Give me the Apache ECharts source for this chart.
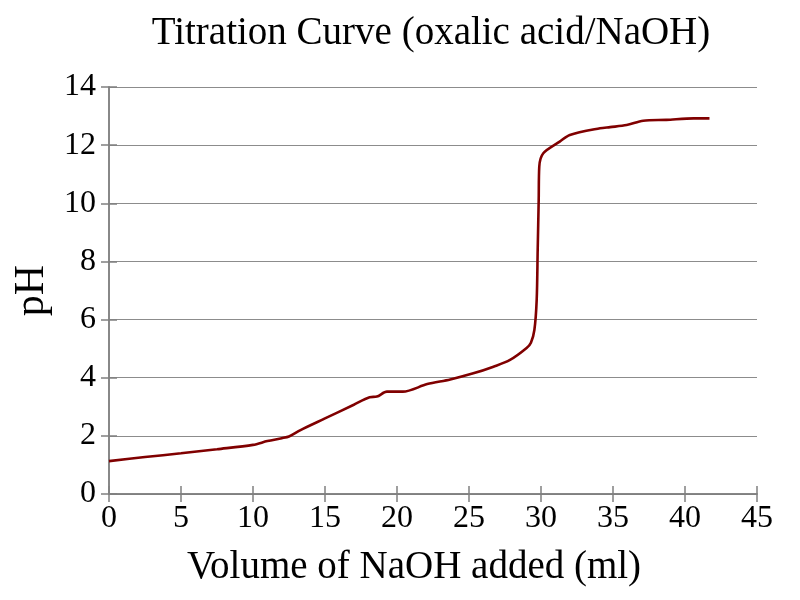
<!DOCTYPE html>
<html><head><meta charset="utf-8">
<script src="https://cdn.jsdelivr.net/npm/echarts@6/dist/echarts.min.js"></script>
<style>html,body{margin:0;padding:0;background:#fff}#c{width:800px;height:600px}</style>
</head><body><div id="c"></div>
<script>
const volume = [0, 2.5, 5, 7.5, 10, 11, 12, 12.5, 13.3, 15, 17, 18.1, 18.6, 19.3, 20.4, 22.1, 23.7, 25.3, 26.7, 27.85, 29.0, 29.3, 29.54, 29.7, 29.77, 29.84, 29.88, 30.16, 31.3, 32.0, 34.1, 34.8, 35.95, 37.1, 38.7, 40.6, 41.7];
const pH =     [1.13, 1.27, 1.40, 1.54, 1.69, 1.82, 1.92, 1.98, 2.2, 2.6, 3.07, 3.33, 3.35, 3.52, 3.52, 3.78, 3.94, 4.15, 4.38, 4.61, 5.02, 5.2, 5.64, 6.67, 8.39, 10.11, 11.26, 11.72, 12.12, 12.35, 12.58, 12.62, 12.69, 12.84, 12.87, 12.92, 12.92];
const xTicks = [0, 5, 10, 15, 20, 25, 30, 35, 40, 45];
const yTicks = [0, 2, 4, 6, 8, 10, 12, 14];
const title = 'Titration Curve (oxalic acid/NaOH)';
const xName = 'Volume of NaOH added (ml)';
const yName = 'pH';

const font = '"Liberation Serif", "DejaVu Serif", serif';
const axisLine = {show: true, lineStyle: {color: '#808080', width: 1.5}};
const tick = {show: true, inside: false, length: 8, lineStyle: {color: '#808080', width: 1.5}};
const chart = echarts.init(document.getElementById('c'), null, {renderer: 'canvas'});
chart.setOption({
  animation: false,
  backgroundColor: '#fff',
  title: {text: title, left: 426, top: 9, textAlign: 'center',
    textStyle: {fontFamily: font, fontSize: 39, fontWeight: 'normal', color: '#000'}},
  grid: {left: 109, right: 43, top: 87, bottom: 106},
  xAxis: [
    {type: 'value', min: xTicks[0], max: xTicks[xTicks.length-1], interval: 5, position: 'bottom',
     name: xName, nameLocation: 'middle', nameGap: 54,
     nameTextStyle: {fontFamily: font, fontSize: 39, color: '#000', padding: [0, 38, 0, 0]},
     axisLine: axisLine, axisTick: tick, splitLine: {show: false},
     axisLabel: {fontFamily: font, fontSize: 32, color: '#000', margin: 9}},
    {type: 'value', min: xTicks[0], max: xTicks[xTicks.length-1], interval: 5, position: 'top',
     axisLine: axisLine, axisTick: tick, splitLine: {show: false}, axisLabel: {show: false}}
  ],
  yAxis: [
    {type: 'value', min: yTicks[0], max: yTicks[yTicks.length-1], interval: 2, position: 'left',
     name: yName, nameLocation: 'middle', nameGap: 40, nameRotate: 90,
     nameTextStyle: {fontFamily: font, fontSize: 42, color: '#000'},
     axisLine: axisLine, axisTick: tick,
     splitLine: {show: true, lineStyle: {color: '#8c8c8c', width: 1.2}},
     axisLabel: {fontFamily: font, fontSize: 32, color: '#000', margin: 13}},
    {type: 'value', min: yTicks[0], max: yTicks[yTicks.length-1], interval: 2, position: 'right',
     axisLine: axisLine, axisTick: tick, splitLine: {show: false}, axisLabel: {show: false}}
  ],
  series: [{
    type: 'line', xAxisIndex: 0, yAxisIndex: 0,
    data: volume.map((v, i) => [v, pH[i]]),
    showSymbol: false, smooth: 0.3,
    lineStyle: {color: '#800000', width: 2.6}
  }]
});
</script></body></html>
